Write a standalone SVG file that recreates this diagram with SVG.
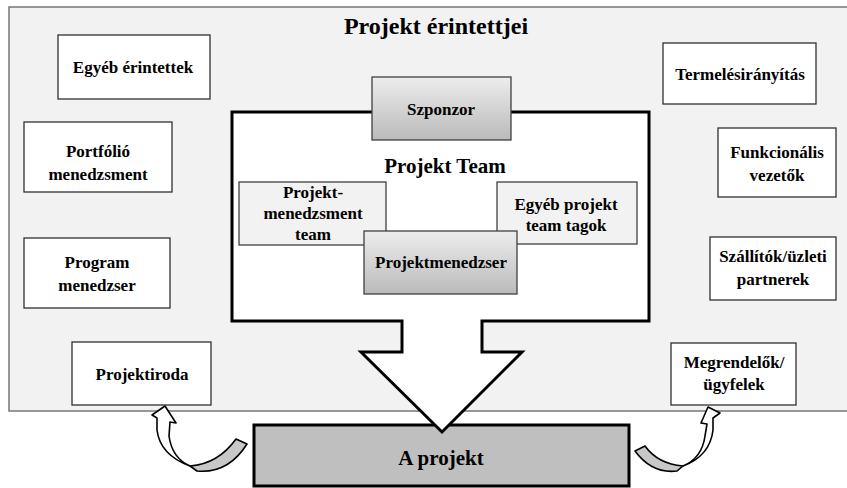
<svg xmlns="http://www.w3.org/2000/svg" width="847" height="488" viewBox="0 0 847 488">
<defs>
<linearGradient id="g" x1="0" y1="0" x2="0" y2="1">
<stop offset="0" stop-color="#ededed"/>
<stop offset="1" stop-color="#bababa"/>
</linearGradient>
<style>
text{font-family:"Liberation Serif","Times New Roman",serif;font-weight:bold;fill:#000;text-anchor:middle}
.t{font-size:17px}
.side{fill:#fff;stroke:#303030;stroke-width:1.3}
.sub{fill:#f2f2f2;stroke:#404040;stroke-width:1.3}
.grad{fill:url(#g);stroke:#404040;stroke-width:1.3}
</style>
</defs>
<rect x="9" y="7" width="850" height="404" fill="#f2f2f2" stroke="#777" stroke-width="1.5"/>
<text x="436" y="34" style="font-size:24px">Projekt érintettjei</text>

<g id="egyeb-erintettek"><rect class="side" x="58" y="35" width="152" height="64"/><text class="t" x="133" y="73">Egyéb érintettek</text></g>
<g id="portfolio"><rect class="side" x="24" y="122" width="148" height="70"/><text class="t" x="98" y="157">Portfólió</text><text class="t" x="98" y="180">menedzsment</text></g>
<g id="program"><rect class="side" x="24" y="238" width="146" height="70"/><text class="t" x="97" y="268">Program</text><text class="t" x="97" y="291">menedzser</text></g>
<g id="projektiroda"><rect class="side" x="72" y="342" width="139" height="63"/><text class="t" x="142" y="380">Projektiroda</text></g>

<g id="termelesiranyitas"><rect class="side" x="663" y="43" width="153" height="61"/><text class="t" x="740" y="80">Termelésirányítás</text></g>
<g id="funkcionalis"><rect class="side" x="718" y="128" width="118" height="69"/><text class="t" x="777" y="158">Funkcionális</text><text class="t" x="777" y="181">vezetők</text></g>
<g id="szallitok"><rect class="side" x="710" y="237" width="126" height="63"/><text class="t" x="773" y="262">Szállítók/üzleti</text><text class="t" x="773" y="285">partnerek</text></g>
<g id="megrendelok"><rect class="side" x="671" y="343" width="125" height="62"/><text class="t" x="734" y="368">Megrendelők/</text><text class="t" x="734" y="390">ügyfelek</text></g>

<g id="a-projekt"><rect x="254" y="425" width="375" height="61" fill="#bfbfbf" stroke="#000" stroke-width="3"/><text x="441" y="465" style="font-size:21px">A projekt</text></g>

<g id="connectors">
<path id="team-arrow" d="M232,112 H649 V321 H482 V352 H522 L442,432 L361,352 H402 V321 H232 Z" fill="#fff" stroke="#000" stroke-width="3" stroke-linejoin="miter"/>
<g id="curve-left" stroke="#000" stroke-width="1.6" stroke-linejoin="round">
<path d="M190,466 Q160,455 157,430 L157,418 L152,415 L165,406 L176,423 L170,422 L169,436 Q172,458 190,466 Z" fill="#fff"/>
<path d="M236,439 L247,444 Q228,474 197,471 L190,466 Q218,464 236,439 Z" fill="#c8c8c8"/>
</g>
<g id="curve-right" stroke="#000" stroke-width="1.6" stroke-linejoin="round">
<path d="M683,466 Q710,456 713,430 L713,418 L720,413 L708,407 L701,423 L707,424 L705,436 Q702,458 683,466 Z" fill="#fff"/>
<path d="M645,446 L635,451 Q652,474 677,471 L683,466 Q658,464 645,446 Z" fill="#c8c8c8"/>
</g>
</g>

<g id="team-title"><text x="445" y="173" style="font-size:21px">Projekt Team</text></g>
<g id="sponzor"><rect class="grad" x="372" y="77" width="139" height="63"/><text class="t" x="441" y="115">Szponzor</text></g>
<g id="pm-team"><rect class="sub" x="239" y="182" width="147" height="63"/><text class="t" x="313" y="198">Projekt-</text><text class="t" x="313" y="219">menedzsment</text><text class="t" x="313" y="240">team</text></g>
<g id="egyeb-team"><rect class="sub" x="497" y="182" width="140" height="62"/><text class="t" x="566" y="210">Egyéb projekt</text><text class="t" x="566" y="231">team tagok</text></g>
<g id="projektmenedzser"><rect class="grad" x="364" y="231" width="153" height="63"/><text class="t" x="441" y="268">Projektmenedzser</text></g>
</svg>
